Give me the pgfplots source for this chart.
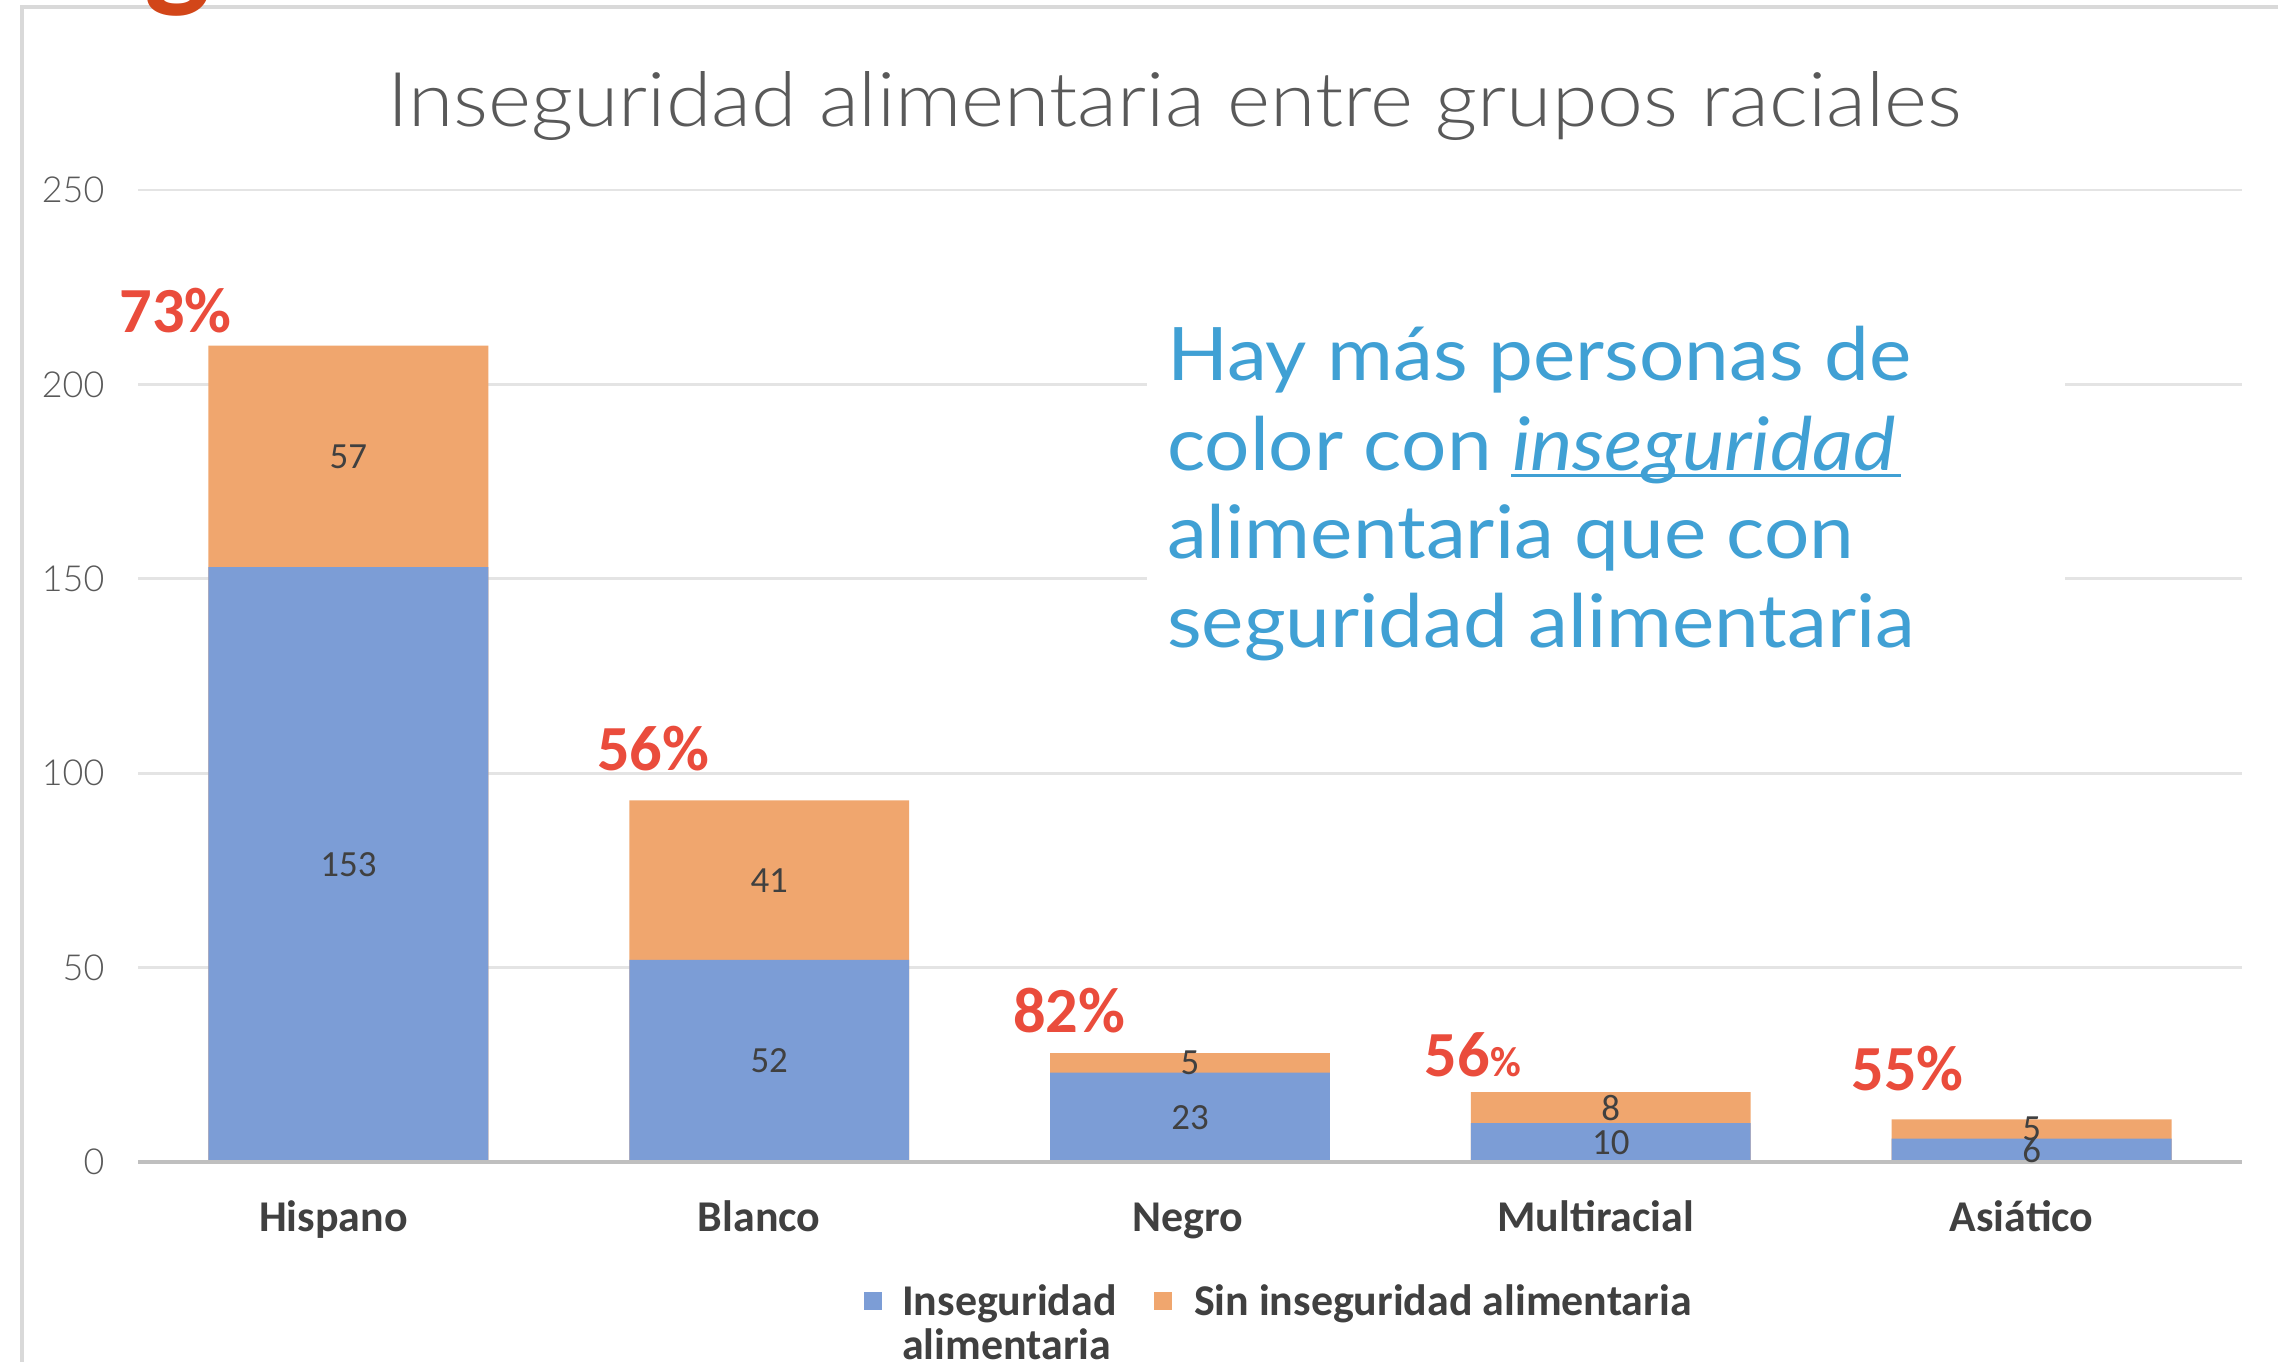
\documentclass[border=0pt]{standalone}
\usepackage{fontspec}
\usepackage{pgfplots}
\usepackage{pgfplotstable}
\pgfplotsset{compat=1.18}
\setmainfont{Carlito}
\newfontfamily\latofont{Lato}
\IfFontExistsTF{Lato Light}{\newfontfamily\lightfont{Lato Light}}{\newfontfamily\lightfont{Lato}}
\definecolor{barblue}{RGB}{124,157,214}
\definecolor{barorange}{RGB}{240,166,110}
\definecolor{gridgray}{RGB}{228,228,228}
\definecolor{axisgray}{RGB}{191,191,191}
\definecolor{labelgray}{RGB}{64,64,64}
\definecolor{tickgray}{RGB}{89,89,89}
\definecolor{titlegray}{RGB}{89,89,89}
\definecolor{pctred}{RGB}{234,76,60}
\definecolor{noteblue}{RGB}{64,160,212}
\definecolor{framegray}{RGB}{217,217,217}
\definecolor{slideorange}{RGB}{210,70,25}

\pgfplotstableread{
x ins sin
0 153 57
1 52 41
2 23 5
3 10 8
4 6 5
}\datatable

\begin{document}
\begin{tikzpicture}
\fill[white] (0,0) rectangle (22.78cm,-13.61cm);
\begin{axis}[
  at={(1.38cm,-11.62cm)}, anchor=south west,
  scale only axis, width=21.04cm, height=9.72cm,
  xmin=-0.5, xmax=4.5, ymin=0, ymax=250,
  clip=false,
  axis line style={draw=none},
  major tick length=0pt, tick style={draw=none},
  ytick={0,50,100,150,200,250},
  ymajorgrids, grid style={gridgray, line width=0.8pt},
  xtick={0,1,2,3,4},
  xticklabels={Hispano\hspace*{0.2cm},Blanco\hspace*{0.1cm},\hspace*{0.05cm}Negro,Multiracial\hspace*{0.2cm},Asiático\hspace*{0.1cm}},
  /pgf/number format/assume math mode=true,
  xticklabel style={anchor=base, inner sep=0pt, yshift=-0.69cm, xshift=-0.05cm,
    font=\bfseries\fontsize{12.5}{15}\selectfont, text=labelgray},
  yticklabel style={anchor=east, inner sep=0pt, xshift=-0.33cm,
    font=\lightfont\fontsize{10.2}{12}\selectfont, text=tickgray},
]
\addplot[ybar, bar width=0.665, bar shift=0pt, fill=barorange, draw=none]
  table[x=x, y expr=\thisrow{ins}+\thisrow{sin}] {\datatable};
\addplot[ybar, bar width=0.665, bar shift=0pt, fill=barblue, draw=none]
  table[x=x, y=ins] {\datatable};
\draw[axisgray, line width=1.1pt] (axis cs:-0.5,0) -- (axis cs:4.5,0);
\addplot[draw=none, mark=none, nodes near coords, point meta=explicit symbolic,
  every node near coord/.style={anchor=center, inner sep=0pt, font=\fontsize{10.5}{12}\selectfont, text=labelgray}]
  table[x=x, y expr=\thisrow{ins}/2, meta=ins] {\datatable};
\addplot[draw=none, mark=none, nodes near coords, point meta=explicit symbolic,
  every node near coord/.style={anchor=center, inner sep=0pt, font=\fontsize{10.5}{12}\selectfont, text=labelgray}]
  table[x=x, y expr=\thisrow{ins}+\thisrow{sin}/2, meta=sin] {\datatable};
\end{axis}
\begin{scope}[x=0.01cm, y=-0.01cm]
  % frame
  \draw[framegray, line width=0.04cm] (22,1400) -- (22,7) -- (2300,7);
  % slide title fragment
  \node[anchor=base, inner sep=0pt, text=slideorange, font=\bfseries\fontsize{40}{40}\selectfont] at (178,-8) {g};
  % title
  \node[anchor=base, inner sep=0pt, text=titlegray, font=\lightfont\fontsize{21.5}{26}\selectfont] at (1175,127) {\scalebox{1.09}[1]{Inseguridad alimentaria entre grupos raciales}};
  % annotation
  \fill[white] (1148,300) rectangle (2066,680);
  \begin{scope}[every node/.style={anchor=base west, inner sep=0pt, text=noteblue, font=\latofont\fontsize{21}{25}\selectfont}]
    \node at (1167,381) {\scalebox{1.085}[1]{Hay más personas de}};
    \node at (1167,471) {\scalebox{1.085}[1]{color con {\itshape inseguridad}}};
    \node at (1167,559) {\scalebox{1.085}[1]{alimentaria que con}};
    \node at (1167,648) {\scalebox{1.085}[1]{seguridad alimentaria}};
    \draw[noteblue, line width=0.8pt] (1512,476) -- (1902,476);
  \end{scope}
  % percentages
  \begin{scope}[every node/.style={anchor=base west, inner sep=0pt, text=pctred, font=\bfseries\fontsize{18.3}{22}\selectfont}]
    \node at (119,333) {73\%};
    \node at (597,771) {56\%};
    \node at (1013,1033) {82\%};
    \node at (1425,1077) {56{\fontsize{12}{14}\selectfont\%}};
    \node at (1852,1091) {55\%};
  \end{scope}
  % legend
  \fill[barblue] (864,1293) rectangle (882,1311);
  \fill[barorange] (1155,1293) rectangle (1173,1311);
  \begin{scope}[every node/.style={anchor=base west, inner sep=0pt, text=labelgray, font=\bfseries\fontsize{12.5}{15}\selectfont}]
    \node at (902,1316) {Inseguridad};
    \node at (902,1360) {alimentaria};
    \node at (1194,1316) {Sin inseguridad alimentaria};
  \end{scope}
\end{scope}
\pgfresetboundingbox
\path[use as bounding box] (0,0) rectangle (22.78cm,-13.61cm);
\end{tikzpicture}
\end{document}
